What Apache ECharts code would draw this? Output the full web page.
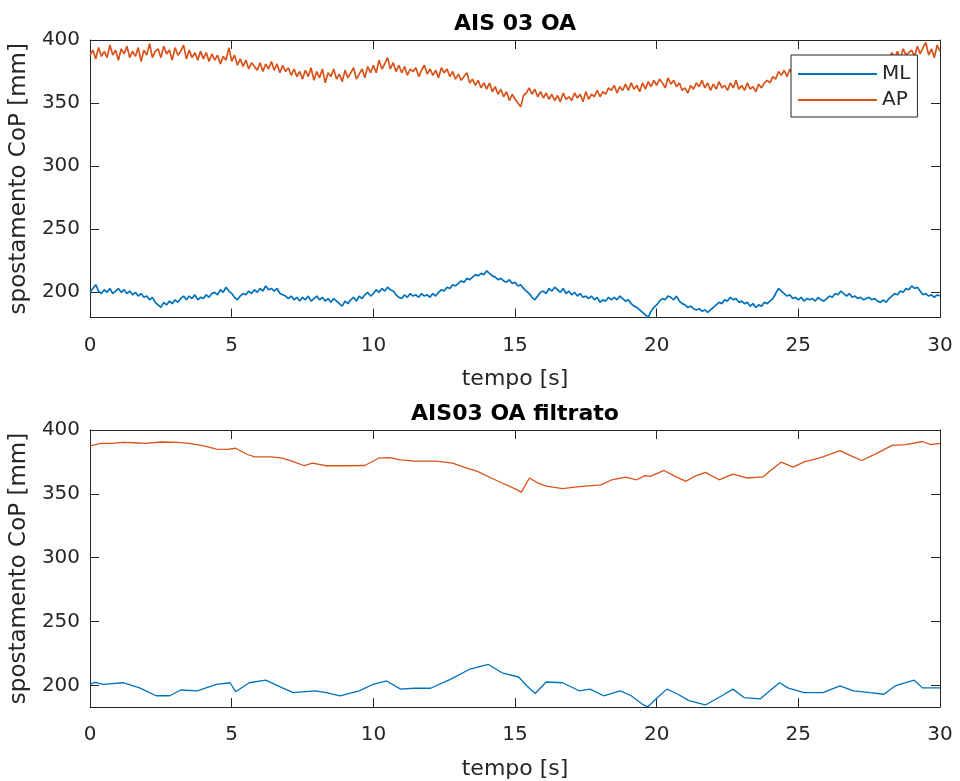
<!DOCTYPE html>
<html>
<head>
<meta charset="utf-8">
<script src="https://cdn.jsdelivr.net/npm/echarts@6.0.0/dist/echarts.min.js"></script>
<style>
  html, body { margin: 0; padding: 0; background: #fff; }
  #grafico { width: 960px; height: 781px; }
</style>
</head>
<body>
<div id="grafico"></div>
<script>
// segnale grezzo, un campione ogni 0.1 s (0..30 s), un secondo per riga
const apRaw = [
  388, 392, 385, 394, 387, 391, 386, 396, 388, 392,
  384, 393, 389, 395, 386, 391, 387, 394, 383, 392,
  388, 397, 386, 391, 393, 386, 395, 389, 392, 384,
  394, 388, 391, 396, 385, 392, 386, 390, 384, 391,
  385, 390, 383, 389, 384, 388, 381, 387, 384, 394,
  383, 388, 380, 385, 379, 384, 377, 382, 379, 376,
  382, 375, 381, 377, 383, 376, 381, 374, 380, 375,
  378, 372, 377, 371, 375, 369, 376, 371, 378, 368,
  375, 370, 377, 366, 374, 371, 377, 369, 373, 367,
  376, 370, 374, 378, 369, 373, 377, 370, 379, 374,
  380, 374, 384, 377, 381, 386, 377, 382, 375, 380,
  374, 379, 372, 377, 375, 378, 371, 376, 380, 373,
  377, 372, 376, 370, 378, 374, 377, 371, 375, 369,
  373, 368, 371, 374, 366, 369, 364, 368, 362, 366,
  361, 366, 359, 363, 357, 361, 355, 359, 352, 357,
  353, 350, 347, 356, 358, 362, 357, 361, 355, 359,
  354, 358, 353, 357, 352, 356, 351, 358, 353, 355,
  352, 358, 354, 357, 351, 359, 353, 357, 355, 360,
  355, 359, 357, 362, 360, 364, 358, 363, 360, 365,
  360, 366, 361, 364, 359, 366, 361, 367, 363, 368,
  364, 369, 366, 362, 370, 365, 368, 363, 366, 360,
  362, 358, 364, 361, 366, 363, 368, 362, 366, 360,
  365, 361, 367, 362, 364, 360, 366, 362, 368, 361,
  364, 360, 366, 361, 363, 359, 365, 362, 366, 368,
  366, 371, 369, 375, 372, 376, 371, 377, 372, 375,
  371, 377, 374, 379, 375, 380, 376, 382, 378, 381,
  378, 384, 381, 386, 382, 385, 381, 384, 378, 382,
  377, 381, 376, 382, 379, 381, 377, 384, 380, 385,
  382, 388, 385, 390, 386, 391, 385, 393, 388, 390,
  392, 387, 395, 389, 394, 398, 388, 393, 386, 396,
  391
];

const mlRaw = [
  200, 203, 206, 201, 199, 202, 200, 203, 199, 201,
  203, 200, 202, 199, 201, 198, 200, 197, 199, 196,
  197, 194, 196, 192, 190, 188, 192, 190, 193, 191,
  194, 192, 195, 197, 194, 197, 195, 198, 194, 196,
  195, 198, 196, 199, 200, 198, 202, 200, 204, 201,
  199, 196, 194, 197, 199, 198, 201, 199, 202, 200,
  203, 201, 205, 202, 203, 201, 203, 199, 198, 197,
  195, 197, 194, 196, 193, 196, 194, 197, 193, 195,
  197, 194, 196, 193, 195, 192, 195, 193, 191, 189,
  193, 191, 194, 196, 193, 197, 195, 198, 200, 197,
  199, 202, 200, 203, 201, 204, 202, 201, 198, 196,
  195, 198, 196, 199, 197, 198, 196, 199, 197, 198,
  196, 199, 197, 200, 202, 201, 204, 203, 206, 205,
  207, 209, 208, 211, 210, 212, 214, 213, 215, 214,
  217, 215, 213, 212, 210, 211, 209, 208, 210, 207,
  208, 205, 206, 203, 201, 199, 196, 194, 197, 200,
  201, 199, 203, 201, 204, 202, 200, 203, 199, 201,
  198, 200, 197, 199, 196, 197, 195, 197, 194, 196,
  192, 194, 193, 196, 194, 196, 194, 197, 195, 193,
  194, 191, 189, 188, 186, 184, 182, 180, 185, 188,
  190, 193, 195, 194, 197, 196, 194, 197, 193, 191,
  190, 188, 189, 187, 186, 187, 185, 186, 184, 186,
  188, 190, 192, 191, 194, 193, 196, 194, 195, 192,
  193, 191, 192, 189, 191, 188, 190, 189, 192, 191,
  193, 195, 199, 203, 201, 199, 197, 198, 195, 196,
  194, 196, 193, 195, 194, 195, 193, 196, 194, 193,
  195, 197, 196, 199, 198, 201, 199, 197, 199, 196,
  197, 195, 196, 194, 195, 196, 194, 195, 193, 192,
  194, 192, 195, 197, 199, 198, 201, 200, 203, 202,
  205, 203, 204, 201, 198, 199, 197, 198, 196, 198,
  197
];

// segnale filtrato, campioni
const tApFilt = [0, 0.39, 0.78, 1.16, 1.55, 1.94, 2.52, 3.1, 3.49, 3.98,
  4.46, 4.85, 5.14, 5.53, 5.82, 6.4, 6.79, 7.17, 7.56, 7.85,
  8.34, 8.92, 9.7, 10.18, 10.57, 10.96, 11.44, 12.22, 12.8, 13.19,
  13.67, 14.16, 14.54, 14.93, 15.22, 15.51, 15.8, 16.1, 16.68, 17.26,
  18.03, 18.42, 18.9, 19.29, 19.59, 19.78, 20.26, 20.65, 21.04, 21.33,
  21.72, 22.2, 22.69, 23.17, 23.75, 24.05, 24.39, 24.82, 25.2, 25.79,
  26.47, 26.86, 27.24, 27.73, 28.31, 28.8, 29.38, 29.67, 30];
const apFilt = [387.5, 389.5, 389.5, 390.3, 390, 389.5, 390.6, 390.3, 389.5, 387.7,
  385, 384.9, 385.7, 381, 379, 379, 378, 375.3, 372, 374,
  372, 372, 372.2, 377.9, 378.4, 376.6, 375.6, 375.6, 374, 371,
  367.6, 362.4, 358.5, 354.7, 351.3, 362.4, 358.5, 356, 354, 355.7,
  357, 361, 363, 361, 364.2, 363.7, 368.3, 363.7, 359.8, 363.7,
  366.8, 361, 365.5, 362.4, 363.2, 368.9, 374.8, 370.9, 375, 378.4,
  383.8, 379.7, 376.1, 381.3, 388, 388.5, 391, 388.5, 389.5];

const tMlFilt = [0, 0.16, 0.48, 1.16, 1.75, 2.33, 2.81, 3.2, 3.78, 4.46,
  4.94, 5.14, 5.62, 6.2, 6.79, 7.17, 7.95, 8.34, 8.82, 9.5,
  9.99, 10.47, 10.96, 11.44, 12.02, 12.7, 13.38, 14.06, 14.54, 15.13,
  15.42, 15.71, 16.1, 16.68, 17.26, 17.65, 18.13, 18.71, 19.1, 19.49,
  19.68, 19.98, 20.36, 20.75, 21.14, 21.72, 22.3, 22.69, 23.08, 23.66,
  24.33, 24.63, 25.2, 25.87, 26.47, 26.95, 27.53, 28.02, 28.41, 29.09,
  29.38, 30];
const mlFilt = [200.8, 202.3, 200.8, 202, 198, 191.8, 191.8, 196.3, 195.7, 200.8,
  202, 195, 202, 204, 198, 194.2, 195.7, 194.2, 191.8, 195.7,
  200.8, 203.4, 197, 197.7, 197.7, 204.5, 212.4, 216.3, 209.8, 206.5,
  199.5, 193.6, 202.6, 202, 195.7, 197, 191.8, 195.7, 191.8, 185.3,
  183, 189.4, 197, 193, 188, 184.6, 191.8, 197, 190.4, 189.4,
  202, 198, 194.2, 194.2, 199.5, 195.7, 194.2, 193, 199.5, 204,
  198, 198];

const yTicks = [200, 250, 300, 350, 400];
const titoli = ['AIS 03 OA', 'AIS03 OA filtrato'];
const COL_ML = '#0072BD';
const COL_AP = '#D95319';
const COL_ASSE = '#262626';
const FONT = 'DejaVu Sans';

const GRIDS = [
  { left: 90, right: 20, top: 40, height: 277.5, yMin: 180 },
  { left: 90, right: 20, top: 430, height: 277.5, yMin: 183 }
];

function coppie(tempi, valori) {
  return valori.map((v, i) => [tempi[i], v]);
}

const tRaw = apRaw.map((_, i) => i / 10);

function asseX(gridIndex, principale) {
  return {
    type: 'value',
    gridIndex,
    position: principale ? 'bottom' : 'top',
    min: 0,
    max: 30,
    interval: 5,
    name: principale ? 'tempo [s]' : '',
    nameLocation: 'middle',
    nameGap: 51,
    nameTextStyle: { color: COL_ASSE, fontSize: 22, fontFamily: FONT },
    axisLine: { show: true, onZero: false, lineStyle: { color: COL_ASSE, width: 1 } },
    axisTick: { show: true, inside: true, length: 9, lineStyle: { color: COL_ASSE } },
    axisLabel: { show: principale, margin: 18, color: COL_ASSE, fontSize: 20, fontFamily: FONT },
    splitLine: { show: false }
  };
}

function asseY(gridIndex, principale) {
  return {
    type: 'value',
    gridIndex,
    position: principale ? 'left' : 'right',
    min: GRIDS[gridIndex].yMin,
    max: 400,
    name: principale ? 'spostamento CoP [mm]' : '',
    nameLocation: 'middle',
    nameRotate: 90,
    nameGap: 45,
    nameTextStyle: { color: COL_ASSE, fontSize: 23, fontFamily: FONT },
    axisLine: { show: true, onZero: false, lineStyle: { color: COL_ASSE, width: 1 } },
    axisTick: { show: true, inside: true, length: 9, customValues: yTicks, lineStyle: { color: COL_ASSE } },
    axisLabel: { show: principale, margin: 10, customValues: yTicks, color: COL_ASSE, fontSize: 20, fontFamily: FONT },
    splitLine: { show: false }
  };
}

function serie(nome, colore, dati, indice, spessore) {
  return {
    name: nome,
    type: 'line',
    xAxisIndex: indice,
    yAxisIndex: indice,
    data: dati,
    showSymbol: false,
    symbol: 'none',
    lineStyle: { color: colore, width: spessore },
    itemStyle: { color: colore },
    emphasis: { disabled: true },
    z: 3
  };
}

const chart = echarts.init(document.getElementById('grafico'), null, { renderer: 'canvas' });

chart.setOption({
  animation: false,
  backgroundColor: '#fff',
  textStyle: { fontFamily: FONT },
  title: [
    { text: titoli[0], left: 515, top: 13, textAlign: 'center', padding: 0,
      textStyle: { fontSize: 22, fontWeight: 'bold', color: '#000', fontFamily: FONT } },
    { text: titoli[1], left: 515, top: 403, textAlign: 'center', padding: 0,
      textStyle: { fontSize: 22, fontWeight: 'bold', color: '#000', fontFamily: FONT } }
  ],
  legend: {
    orient: 'vertical',
    left: 791,
    top: 55,
    padding: [9, 7, 7, 7],
    itemGap: 6,
    itemWidth: 79,
    itemHeight: 2,
    backgroundColor: '#fff',
    borderColor: COL_ASSE,
    borderWidth: 1,
    borderRadius: 0,
    selectedMode: false,
    textStyle: { color: COL_ASSE, fontSize: 20, fontFamily: FONT },
    data: [
      { name: 'ML', icon: 'rect' },
      { name: 'AP', icon: 'rect' }
    ]
  },
  grid: GRIDS.map((g) => ({ left: g.left, right: g.right, top: g.top, height: g.height, containLabel: false })),
  xAxis: [asseX(0, true), asseX(0, false), asseX(1, true), asseX(1, false)],
  yAxis: [asseY(0, true), asseY(0, false), asseY(1, true), asseY(1, false)],
  series: [
    serie('ML', COL_ML, coppie(tRaw, mlRaw), 0, 1.7),
    serie('AP', COL_AP, coppie(tRaw, apRaw), 0, 1.7),
    serie('ML', COL_ML, coppie(tMlFilt, mlFilt), 2, 1.3),
    serie('AP', COL_AP, coppie(tApFilt, apFilt), 2, 1.3)
  ]
});
</script>
</body>
</html>
